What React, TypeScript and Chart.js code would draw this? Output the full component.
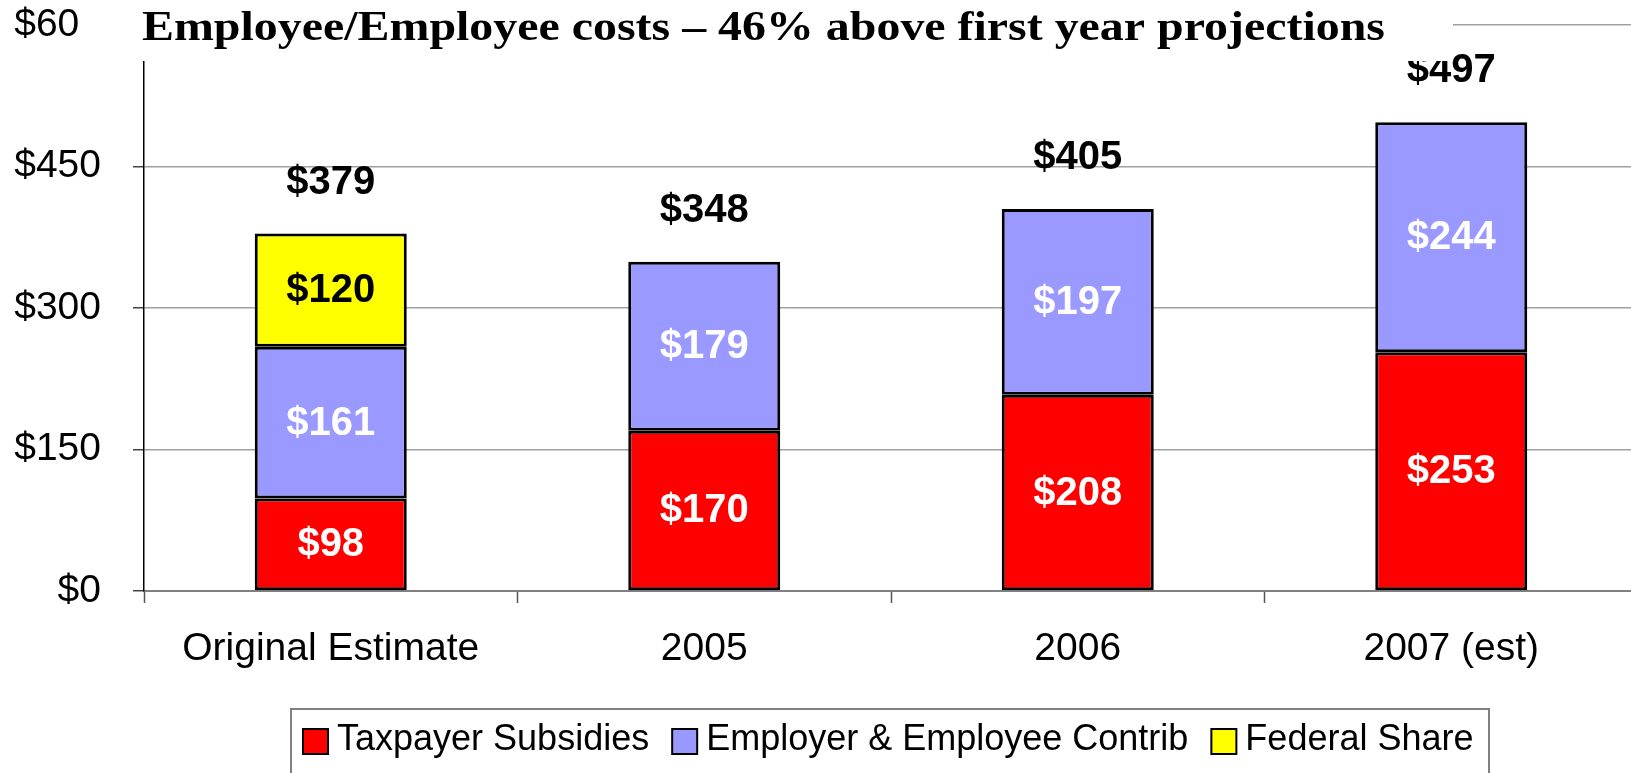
import React, { useEffect, useRef } from 'react';
import { Chart, registerables } from 'chart.js';

Chart.register(...registerables);

const categories = ['Original Estimate', '2005', '2006', '2007 (est)'];
const taxpayerSubsidies = [98, 170, 208, 253];
const employerContrib = [161, 179, 197, 244];
const federalShare: (number | null)[] = [120, null, null, null];
const totalLabels = [379, 348, 405, 497];
const yTickValues = [0, 150, 300, 450, 600];
const seriesNames = ['Taxpayer Subsidies', 'Employer & Employee Contrib', 'Federal Share'];
const seriesColors = ['#FF0000', '#9999FF', '#FFFF00'];
const labelColors = ['#FFFFFF', '#FFFFFF', '#000000'];
const titleText = 'Employee/Employee costs \u2013 46% above first year projections';

const SANS = '"Liberation Sans", Arial, Helvetica, sans-serif';
const SERIF = '"Liberation Serif", "Times New Roman", serif';

const valueLabelPlugin = {
  id: 'valueLabels',
  afterDatasetsDraw(chart: any) {
    const ctx = chart.ctx;
    ctx.save();
    ctx.font = `bold 40px ${SANS}`;
    ctx.textAlign = 'center';
    ctx.textBaseline = 'middle';
    const n = chart.data.datasets.length;
    chart.data.datasets.forEach((ds: any, di: number) => {
      const meta = chart.getDatasetMeta(di);
      meta.data.forEach((bar: any, i: number) => {
        const v = ds.data[i];
        if (v == null) return;
        const { x, y, base } = bar.getProps(['x', 'y', 'base'], true);
        ctx.fillStyle = labelColors[di];
        ctx.fillText('$' + v, x, (y + base) / 2 + 1);
      });
    });
    totalLabels.forEach((t, i) => {
      let top = Infinity;
      let x = 0;
      for (let di = 0; di < n; di++) {
        const v = chart.data.datasets[di].data[i];
        if (v == null) continue;
        const p = chart.getDatasetMeta(di).data[i].getProps(['x', 'y'], true);
        if (p.y < top) {
          top = p.y;
          x = p.x;
        }
      }
      ctx.fillStyle = '#000000';
      ctx.fillText('$' + t, x, top - 51);
    });
    ctx.restore();
  },
};

const titleLegendPlugin = {
  id: 'titleLegend',
  afterDraw(chart: any) {
    const ctx = chart.ctx;
    ctx.save();
    // title box covering the top of the plot
    ctx.fillStyle = '#FFFFFF';
    ctx.fillRect(78, 0, 1453 - 78, 61);
    ctx.font = `bold 42px ${SERIF}`;
    ctx.textAlign = 'left';
    ctx.textBaseline = 'alphabetic';
    const w0 = ctx.measureText(titleText).width;
    const target = 1243;
    ctx.translate(142, 40);
    ctx.scale(target / w0, 1);
    ctx.fillStyle = '#000000';
    ctx.fillText(titleText, 0, 0);
    ctx.setTransform(1, 0, 0, 1, 0, 0);

    // legend
    ctx.strokeStyle = '#808080';
    ctx.lineWidth = 2;
    ctx.strokeRect(291, 709, 1489 - 291, 120);
    ctx.font = `36px ${SANS}`;
    let x = 303;
    seriesNames.forEach((name, i) => {
      ctx.fillStyle = seriesColors[i];
      ctx.fillRect(x, 729, 25, 25);
      ctx.strokeStyle = '#000000';
      ctx.lineWidth = 2;
      ctx.strokeRect(x, 729, 25, 25);
      x += 25 + 9;
      ctx.fillStyle = '#000000';
      ctx.fillText(name, x, 750);
      x += ctx.measureText(name).width + 23;
    });
    ctx.restore();
  },
};

export default function App() {
  const ref = useRef<HTMLCanvasElement | null>(null);
  useEffect(() => {
    if (!ref.current) return;
    const chart = new Chart(ref.current, {
      type: 'bar',
      data: {
        labels: categories,
        datasets: [
          { label: seriesNames[0], data: taxpayerSubsidies, backgroundColor: seriesColors[0] },
          { label: seriesNames[1], data: employerContrib, backgroundColor: seriesColors[1] },
          { label: seriesNames[2], data: federalShare, backgroundColor: seriesColors[2] },
        ].map((d) => ({
          ...d,
          borderColor: '#000000',
          borderWidth: 3,
          borderSkipped: false,
          categoryPercentage: 1,
          barPercentage: 0.407,
        })) as any,
      },
      options: {
        animation: false,
        responsive: false,
        devicePixelRatio: 1,
        layout: { padding: { top: 25, left: 0, right: 0, bottom: 0 } },
        plugins: { legend: { display: false }, tooltip: { enabled: false }, title: { display: false } },
        scales: {
          x: {
            stacked: true,
            grid: {
              display: true,
              drawOnChartArea: false,
              offset: true,
              tickLength: 12,
              tickColor: '#555555',
              tickWidth: 1.5,
            },
            border: { color: '#808080', width: 2 },
            ticks: {
              color: '#000000',
              font: { family: SANS, size: 39 },
              padding: 23,
              maxRotation: 0,
              autoSkip: false,
            },
            afterFit: (s: any) => {
              s.height = 182;
              s.paddingLeft = 0;
              s.paddingRight = 0;
            },
          },
          y: {
            stacked: true,
            min: 0,
            max: 600,
            afterBuildTicks: (s: any) => {
              s.ticks = yTickValues.map((v) => ({ value: v }));
            },
            ticks: {
              color: '#000000',
              font: { family: SANS, size: 39 },
              padding: 32,
              callback: (v: any) => '$' + v,
            },
            grid: {
              color: (c: any) => (c.tick && c.tick.value === 0 ? '#808080' : '#A0A0A0'),
              lineWidth: 1.5,
              tickLength: 11,
              tickColor: '#444444',
            },
            border: { color: '#000000', width: 1.5 },
            afterFit: (s: any) => {
              s.width = 144;
              s.paddingTop = 0;
              s.paddingBottom = 0;
            },
          },
        },
      } as any,
      plugins: [valueLabelPlugin, titleLegendPlugin],
    });
    return () => chart.destroy();
  }, []);

  return (
    <div
      style={{
        position: 'fixed',
        left: 0,
        top: 0,
        width: '100vw',
        height: '100vh',
        overflow: 'hidden',
        background: '#FFFFFF',
      }}
    >
      <canvas ref={ref} width={1638} height={773} style={{ display: 'block' }} />
    </div>
  );
}
